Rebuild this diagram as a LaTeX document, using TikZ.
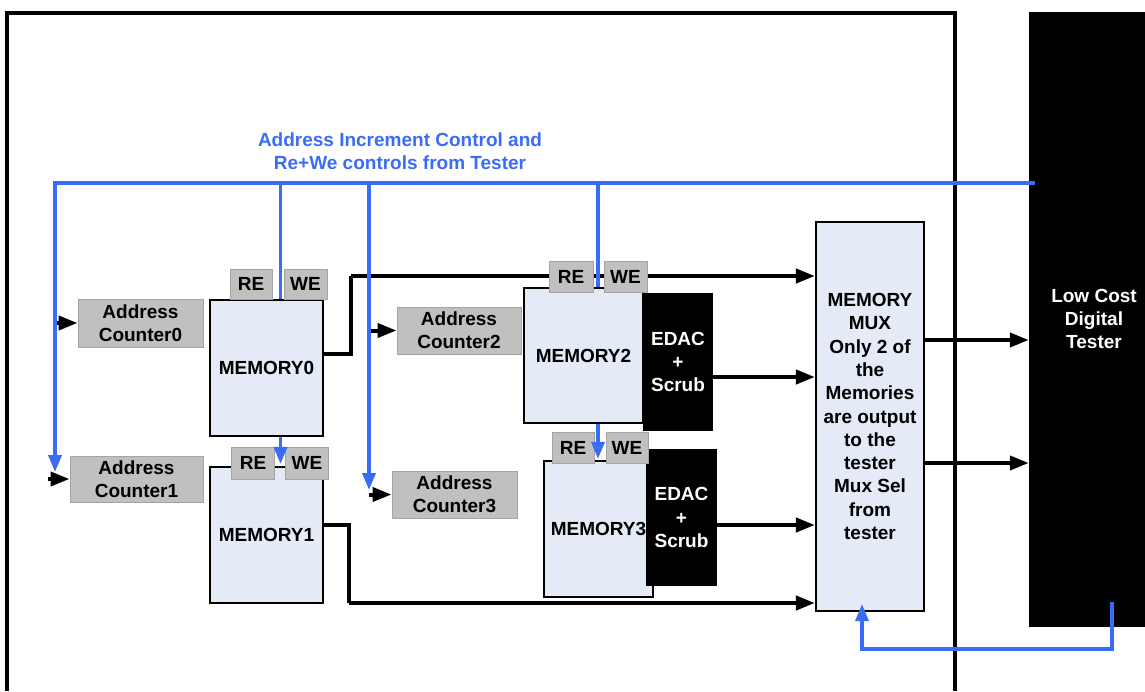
\documentclass[tikz,border=0pt]{standalone}
\usepackage{fontspec}
\setmainfont{Liberation Sans}
\usetikzlibrary{arrows.meta}
\definecolor{busblue}{HTML}{3B6CF8}
\definecolor{memfill}{HTML}{E4EAF6}
\definecolor{ctrfill}{HTML}{C0C0C0}
\definecolor{ctrline}{HTML}{A4A4A4}
\pgfdeclarelayer{back}
\pgfsetlayers{back,main}
\begin{document}
\begin{tikzpicture}[x=1pt,y=-1pt,
  every node/.style={font=\fontsize{19}{23.3}\selectfont\bfseries, inner sep=0pt, align=center},
  sz/.style 2 args={minimum width=#1pt, minimum height=#2pt},
  mem/.style={draw=black, line width=2.2pt, fill=memfill},
  ctr/.style={draw=ctrline, line width=1pt, fill=ctrfill},
  edac/.style={fill=black, text=white},
  conn/.style={draw=black, line width=4pt, -{Triangle[length=19pt,width=14pt]}},
  wire/.style={draw=black, line width=4pt},
  ctl/.style={draw=busblue, line width=3.6pt},
  ctlarrow/.style={draw=busblue, line width=3.6pt, -{Triangle[length=17pt,width=13pt]}},
  frame/.style={draw=black, line width=4pt}]

\useasboundingbox (0,0) rectangle (1145,691);

% ---- memories and EDAC blocks ----
\node[mem, sz={113}{136}] (m0) at (266.5,368) {MEMORY0};
\node[mem, sz={113}{136}] (m1) at (266.5,535) {MEMORY1};
\node[mem, sz={119}{135}] (m2) at (583.5,355.5) {MEMORY2};
\node[mem, sz={109}{136}] (m3) at (598.5,529) {MEMORY3};
\node[edac, sz={70}{138}] (e2) at (678,362) {EDAC\\+\\Scrub};
\node[edac, sz={71}{137}] (e3) at (681.5,517.5) {EDAC\\+\\Scrub};

% ---- read / write enables ----
\node[ctr, sz={42}{30}] (re0) at (251,284) {RE};
\node[ctr, sz={43}{30}] (we0) at (305.5,284) {WE};
\node[ctr, sz={43}{32}] (re1) at (253,463) {RE};
\node[ctr, sz={43}{32}] (we1) at (307,463) {WE};
\node[ctr, sz={44}{31}] (re2) at (571,276.5) {RE};
\node[ctr, sz={43}{31}] (we2) at (625.5,276.5) {WE};
\node[ctr, sz={42}{31}] (re3) at (573,447.5) {RE};
\node[ctr, sz={42}{31}] (we3) at (627,447.5) {WE};

% ---- address counters ----
\node[ctr, sz={125}{48}] (c0) at (140.5,323) {Address\\Counter0};
\node[ctr, sz={133}{46}] (c1) at (136.5,479) {Address\\Counter1};
\node[ctr, sz={124}{47}] (c2) at (459,330.5) {Address\\Counter2};
\node[ctr, sz={125}{47}] (c3) at (454.5,494.5) {Address\\Counter3};

% ---- output multiplexer and tester ----
\node[mem, sz={108}{389}] (mux) at (870,416.5)
  {MEMORY\\MUX\\Only 2 of\\the\\Memories\\are output\\to the\\tester\\Mux Sel\\from\\tester};
\node[fill=black, sz={116}{615}] (tester) at (1087,319.5) {};
\node[text=white] (testerlbl) at (1094,319) {Low Cost\\Digital\\Tester};

\node[text=busblue] (title) at (400,151.5) {Address Increment Control and\\Re+We controls from Tester};

% ---- control bus junctions ----
\coordinate (busR) at (1035,183);
\coordinate (busL) at (55,183);
\coordinate (tapA) at (280.5,183);
\coordinate (tapB) at (369,183);
\coordinate (tapC) at (598,183);
\coordinate (fb) at (1112,602);
\coordinate (fbL) at (862,649);

% ---- board outline and data paths (behind the blocks) ----
\begin{pgfonlayer}{back}
  \draw[frame] (7,691) -- (7,12.5) -- (955,12.5) -- (955,691);
  \draw[wire] (m0.east |- 0,354) -- (351,354) -- (351,276);
  \draw[conn] (351,276) -- (mux.west |- 0,276);
  \draw[wire] (m1.east |- 0,525) -- (349,525) -- (349,603);
  \draw[conn] (349,603) -- (mux.west |- 0,603);
  \draw[conn] (e2.east |- 0,377) -- (mux.west |- 0,377);
  \draw[conn] (e3.east |- 0,525) -- (mux.west |- 0,525);
  \draw[conn] (mux.east |- 0,340) -- (tester.west |- 0,340);
  \draw[conn] (mux.east |- 0,463) -- (tester.west |- 0,463);
  \draw[conn] (busL |- c0) -- (c0.west);
  \draw[conn] ([xshift=-7pt]busL |- c1) -- (c1.west);
  \draw[conn] (tapB |- c2) -- (c2.west);
  \draw[conn] (tapB |- c3) -- (c3.west);
\end{pgfonlayer}

% ---- control lines from the tester ----
\draw[ctlarrow] (busR) -- (busL) -- (55,472);
\draw[ctl] (tapA) -- (tapA |- m0.north);
\draw[ctlarrow] (tapA |- m0.south) -- ([yshift=2pt]tapA |- m1.north);
\draw[ctlarrow] (tapB) -- (369,490);
\draw[ctl] (tapC) -- (tapC |- m2.north);
\draw[ctlarrow] (tapC |- m2.south) -- ([yshift=1pt]tapC |- m3.north);
\draw[ctlarrow] (fb) |- (fbL) -- ([yshift=8pt]fbL |- mux.south);

\end{tikzpicture}
\end{document}
